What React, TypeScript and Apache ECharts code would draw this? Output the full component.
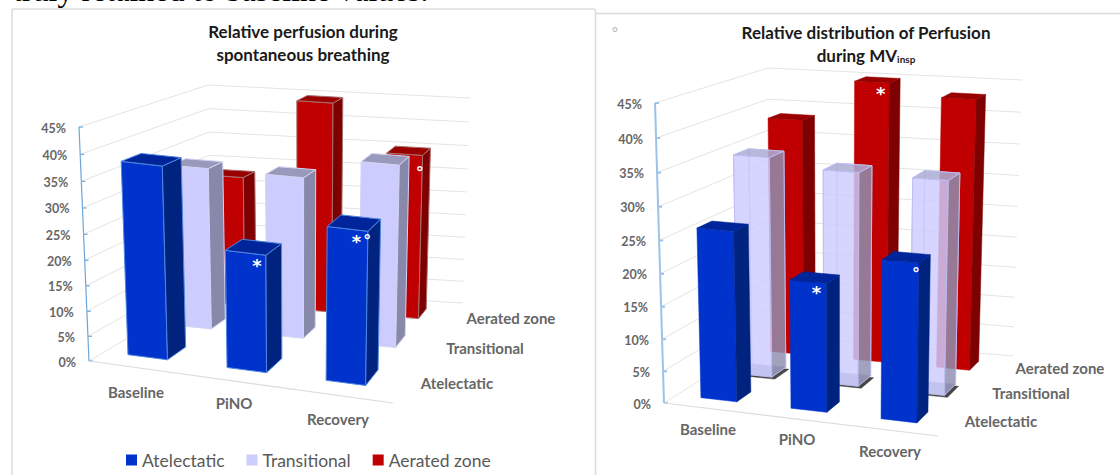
import React, { useEffect, useRef } from "react";
import * as echarts from "echarts";

// Categories and labels
const phases = ["Baseline", "PiNO", "Recovery"];
const zones = ["Atelectatic", "Transitional", "Aerated zone"];
const tickValues = [0, 5, 10, 15, 20, 25, 30, 35, 40, 45];
const tickLabels = ["0%", "5%", "10%", "15%", "20%", "25%", "30%", "35%", "40%", "45%"];

// Relative perfusion (%), spontaneous breathing
const sbAtelectatic = [38.1, 23.4, 30.3];
const sbTransitional = [33.5, 33.4, 37.6];
const sbAerated = [28.1, 44.8, 35.3];

// Relative perfusion (%), MV insp
const mvAtelectatic = [26.3, 19.8, 24.1];
const mvTransitional = [34.9, 33.6, 33.4];
const mvAerated = [38.5, 45, 43.2];

// Significance marks: phase index, zone index, glyph
const sbMarks = [
  { cat: 1, zone: 0, glyph: "*", u: 0.78, dy: 11 },
  { cat: 2, zone: 0, glyph: "*", u: 0.72, dy: 12 },
  { cat: 2, zone: 0, glyph: "°", u: 0.98, dy: 9 },
  { cat: 2, zone: 2, glyph: "°", u: 0.92, dy: 17 },
];
const mvMarks = [
  { cat: 1, zone: 0, glyph: "*", u: 0.72, dy: 10 },
  { cat: 1, zone: 2, glyph: "*", u: 0.75, dy: 11 },
  { cat: 2, zone: 0, glyph: "°", u: 0.92, dy: 11 },
];

type Pt = [number, number];

// Bilinear map from the unit square onto a quad (front-left, front-right, back-right, back-left)
function quadMap(q: Pt[]) {
  const [p0, p1, p2, p3] = q;
  return (u: number, v: number): Pt => {
    const fx = p0[0] + (p1[0] - p0[0]) * u, fy = p0[1] + (p1[1] - p0[1]) * u;
    const bx = p3[0] + (p2[0] - p3[0]) * u, by = p3[1] + (p2[1] - p3[1]) * u;
    return [fx + (bx - fx) * v, fy + (by - fy) * v];
  };
}

// Height along the value axis as a 0..1 fraction, with the foreshortening of a camera looking down
const FORESHORTEN = 0.0576;
function heightFraction(api: any, value: number) {
  const y0 = api.coord([0, 0])[1];
  const y45 = api.coord([0, 45])[1];
  const f = (y0 - api.coord([0, value])[1]) / (y0 - y45);
  return f / (1 + FORESHORTEN * (1 - f));
}

const FONT = "Lato";
const GRAY = "#666666";

const panelSb = {
  grid: { left: 100, top: 100, width: 300, height: 240 },
  floor: [[89, 361], [393, 403], [463, 303], [212, 288]] as Pt[],
  roof: [[79, 127], [398, 165], [470, 98], [208, 85]] as Pt[],
  barW: 0.133, cShift: -0.022,
  zRanges: [[0.128, 0.29], [0.52, 0.645], [0.82, 0.92]],
  axisColor: "#6ea6d8", axisWidth: 1.2, outline: true, glass: false,
  catPos: [[136, 392], [234, 403], [338, 419]] as Pt[],
  zonePos: [[457, 383], [485, 348], [511, 318]] as Pt[],
  values: [sbAtelectatic, sbTransitional, sbAerated], marks: sbMarks,
};
const panelMv = {
  grid: { left: 700, top: 100, width: 300, height: 240 },
  floor: [[664, 403], [938, 436], [1013, 356], [771, 335]] as Pt[],
  roof: [[655, 103], [943, 124], [1022, 80], [768, 68]] as Pt[],
  barW: 0.133, cShift: -0.011,
  zRanges: [[0.12, 0.26], [0.47, 0.61], [0.79, 0.905]],
  axisColor: "#9cc4e8", axisWidth: 2, outline: false, glass: true,
  catPos: [[708, 429], [797, 439], [890, 451]] as Pt[],
  zonePos: [[1001, 421], [1031, 393], [1060, 368]] as Pt[],
  values: [mvAtelectatic, mvTransitional, mvAerated], marks: mvMarks,
};

const zoneColors = [
  { front: "#0033cc", side: "#00237f", top: "#00249a", edge: "#4f86e0", legend: "#0033cc" },
  { front: "#ccccff", side: "#8888aa", top: "#9999bb", edge: "#d4d4f4", legend: "#ccccff" },
  { front: "#c00000", side: "#7f0000", top: "#990000", edge: "#a87070", legend: "#c00000" },
];
const glassColors = { front: "rgba(204,204,255,0.75)", side: "rgba(136,136,170,0.75)", top: "rgba(170,170,210,0.8)", edge: "rgba(190,190,240,0.9)" };

function projector(panel: typeof panelSb) {
  const floor = quadMap(panel.floor);
  const roof = quadMap(panel.roof);
  return (c: number, z: number, f: number): Pt => {
    const a = floor(c, z), b = roof(c, z);
    return [a[0] + (b[0] - a[0]) * f, a[1] + (b[1] - a[1]) * f];
  };
}

function frameSeries(panel: typeof panelSb, axisIndex: number) {
  const project = projector(panel);
  return {
    type: "custom",
    name: "frame" + axisIndex,
    xAxisIndex: axisIndex,
    yAxisIndex: axisIndex,
    silent: true,
    z: 1,
    data: tickValues.map((t, i) => [0, t, i]),
    encode: { x: 0, y: 1 },
    renderItem: (params: any, api: any) => {
      const f = heightFraction(api, api.value(1));
      const fl = project(0, 0, f), bl = project(0, 1, f), br = project(1, 1, f);
      const fl0 = project(0, 0, 0), fl1 = project(0, 0, 1);
      const children: any[] = [
        { type: "polyline", shape: { points: [fl, bl, br] }, style: { stroke: "#e4e4e4", lineWidth: 1, fill: "none" } },
        { type: "line", shape: { x1: fl[0], y1: fl[1], x2: fl[0] + 4, y2: fl[1] }, style: { stroke: panel.axisColor, lineWidth: panel.axisWidth } },
        {
          type: "text",
          style: {
            text: tickLabels[params.dataIndex], x: fl[0] - 13, y: fl[1] + 1, align: "right", verticalAlign: "middle",
            fontFamily: FONT, fontWeight: "bold", fontSize: 12.5, fill: GRAY,
          },
        },
      ];
      if (params.dataIndex === 0) {
        const fr = project(1, 0, 0);
        children.push(
          { type: "line", shape: { x1: fl[0], y1: fl[1], x2: fr[0], y2: fr[1] }, style: { stroke: "#dcdcdc", lineWidth: 1.2 } },
          { type: "line", shape: { x1: fl0[0], y1: fl0[1], x2: fl1[0], y2: fl1[1] }, style: { stroke: panel.axisColor, lineWidth: panel.axisWidth } },
        );
        phases.forEach((t, i) => children.push({
          type: "text",
          style: { text: t, x: panel.catPos[i][0], y: panel.catPos[i][1], align: "center", verticalAlign: "middle", fontFamily: FONT, fontWeight: "bold", fontSize: 15, fill: GRAY },
        }));
        zones.forEach((t, i) => children.push({
          type: "text",
          style: { text: t, x: panel.zonePos[i][0], y: panel.zonePos[i][1], align: "center", verticalAlign: "middle", fontFamily: FONT, fontWeight: "bold", fontSize: 15, fill: GRAY },
        }));
      }
      return { type: "group", children };
    },
  };
}

function zoneSeries(panel: typeof panelSb, axisIndex: number, zone: number) {
  const project = projector(panel);
  const g = panel.grid;
  const glass = panel.glass && zone === 1;
  const col = glass ? glassColors : zoneColors[zone];
  const edgeStroke = panel.outline || glass ? col.edge : undefined;
  return {
    type: "custom",
    name: zones[zone],
    xAxisIndex: axisIndex,
    yAxisIndex: axisIndex,
    silent: true,
    z: 2 + (2 - zone),
    itemStyle: { color: zoneColors[zone].legend },
    data: panel.values[zone].map((v, i) => [i, v]),
    encode: { x: 0, y: 1 },
    renderItem: (params: any, api: any) => {
      const cat = api.value(0);
      const f = heightFraction(api, api.value(1));
      const cMid = (api.coord([cat, 0])[0] - g.left) / g.width + panel.cShift;
      const [z0, z1] = panel.zRanges[zone];
      const c0 = cMid - panel.barW / 2, c1 = cMid + panel.barW / 2;
      const A = project(c0, z0, 0), B = project(c1, z0, 0), C = project(c1, z1, 0), D = project(c0, z1, 0);
      const E = project(c0, z0, f), F = project(c1, z0, f), G = project(c1, z1, f), H = project(c0, z1, f);
      const face = (points: Pt[], fill: string, stroke?: string) => ({
        type: "polygon",
        shape: { points },
        style: { fill, stroke: stroke ?? fill, lineWidth: stroke ? 1 : 0.5, lineJoin: "round" },
      });
      const children: any[] = [];
      if (glass) {
        const shadow = [A, B, C, D].map((p) => [p[0] + 3, p[1] + 2] as Pt);
        children.push(
          face(shadow, "rgba(40,40,40,0.85)"),
          face([A, B, C, D], "#a6a6c4"),
          face([D, C, G, H], "rgba(204,204,255,0.35)", col.edge),
          face([A, D, H, E], "rgba(204,204,255,0.35)", col.edge),
        );
      }
      children.push(
        face([A, B, F, E], col.front, edgeStroke),
        face([B, C, G, F], col.side, edgeStroke),
        face([E, F, G, H], col.top, edgeStroke),
      );
      panel.marks.filter((m) => m.cat === cat && m.zone === zone).forEach((m) => {
        const p = project(c0 + panel.barW * m.u, z0, f);
        children.push({
          type: "text",
          style: {
            text: m.glyph, x: p[0], y: p[1] + m.dy, align: "center", verticalAlign: "middle",
            fontFamily: "DejaVu Sans", fontWeight: "bold", fontSize: m.glyph === "*" ? 18 : 16, fill: "#ffffff",
          },
        });
      });
      return { type: "group", children };
    },
  };
}

function axesFor(gridIndex: number) {
  return {
    x: { type: "category", gridIndex, data: phases, show: false },
    y: { type: "value", gridIndex, min: 0, max: 45, interval: 5, show: false },
  };
}

export default function App() {
  const ref = useRef<HTMLDivElement>(null);
  useEffect(() => {
    const chart = echarts.init(ref.current!, undefined, { renderer: "svg" });
    const a0 = axesFor(0), a1 = axesFor(1);
    const border = { stroke: "#dcdcdc", lineWidth: 1.5 };
    chart.setOption({
      animation: false,
      backgroundColor: "#ffffff",
      grid: [panelSb.grid, panelMv.grid],
      xAxis: [a0.x, a1.x],
      yAxis: [a0.y, a1.y],
      legend: {
        data: zones,
        left: 121,
        top: 446,
        icon: "rect",
        itemWidth: 11,
        itemHeight: 11,
        itemGap: 22,
        selectedMode: false,
        textStyle: { fontFamily: FONT, fontSize: 17.5, color: "#595959" },
      },
      graphic: [
        { type: "line", shape: { x1: 12, y1: 9, x2: 595, y2: 9 }, style: border, silent: true },
        { type: "line", shape: { x1: 12, y1: 9, x2: 12, y2: 475 }, style: border, silent: true },
        { type: "line", shape: { x1: 595.5, y1: 9, x2: 595.5, y2: 475 }, style: border, silent: true },
        { type: "line", shape: { x1: 596, y1: 13.5, x2: 1120, y2: 13.5 }, style: border, silent: true },
        { type: "text", x: 13, y: -26, silent: true, style: { text: "truly retained to baseline values:", fontFamily: "Liberation Serif", fontSize: 32, fill: "#000000" } },
        { type: "text", x: 303, y: 31, silent: true, style: { text: "Relative perfusion during", align: "center", verticalAlign: "middle", fontFamily: FONT, fontWeight: "bold", fontSize: 17, fill: "#1a1a1a" } },
        { type: "text", x: 303, y: 54, silent: true, style: { text: "spontaneous breathing", align: "center", verticalAlign: "middle", fontFamily: FONT, fontWeight: "bold", fontSize: 17, fill: "#1a1a1a" } },
        { type: "text", x: 866, y: 32, silent: true, style: { text: "Relative distribution of Perfusion", align: "center", verticalAlign: "middle", fontFamily: FONT, fontWeight: "bold", fontSize: 17, fill: "#1a1a1a" } },
        {
          type: "text", x: 866, y: 55, silent: true,
          style: {
            text: "during MV{s|insp}", align: "center", verticalAlign: "middle", fontFamily: FONT, fontWeight: "bold", fontSize: 17, fill: "#1a1a1a",
            rich: { s: { fontFamily: FONT, fontWeight: "bold", fontSize: 10, fill: "#1a1a1a", padding: [7, 0, 0, 0] } },
          },
        },
        { type: "text", x: 615, y: 31, silent: true, style: { text: "°", align: "center", verticalAlign: "middle", fontFamily: FONT, fontSize: 14, fill: "#b5b5b5" } },
      ],
      series: [
        frameSeries(panelSb, 0),
        frameSeries(panelMv, 1),
        zoneSeries(panelSb, 0, 2), zoneSeries(panelSb, 0, 1), zoneSeries(panelSb, 0, 0),
        zoneSeries(panelMv, 1, 2), zoneSeries(panelMv, 1, 1), zoneSeries(panelMv, 1, 0),
      ],
    });
    return () => chart.dispose();
  }, []);
  return <div ref={ref} style={{ position: "fixed", left: 0, top: 0, width: 1120, height: 475 }} />;
}
